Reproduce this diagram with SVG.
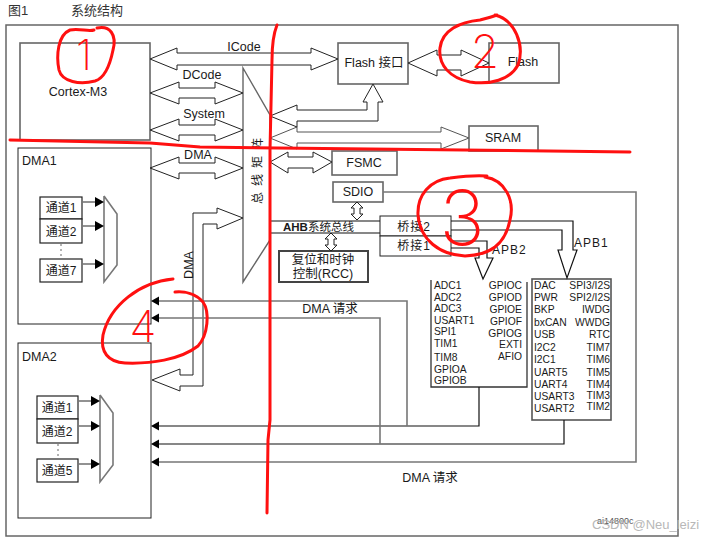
<svg xmlns="http://www.w3.org/2000/svg" width="720" height="540" viewBox="0 0 720 540">
<style>
text{font-family:"Liberation Sans","Noto Sans CJK SC",sans-serif;fill:#1a1a1a;font-size:12px}
.box{fill:#fff;stroke:#666;stroke-width:1.6}
.chan{fill:#fff;stroke:#222;stroke-width:1.2}
.big{fill:#fff;stroke:#222;stroke-width:1}
.ln{fill:none;stroke:#111;stroke-width:1.2}
.lg{fill:none;stroke:#777;stroke-width:1.6}
.tri{fill:#000}
.per text{font-size:10.3px}
.red{fill:none;stroke:#ff1010;stroke-width:3;stroke-linecap:round;stroke-linejoin:round}
.rt{fill:#ff1010;font-family:Inter,Lato,"DejaVu Sans",sans-serif;font-weight:200;text-anchor:middle}
.mid{text-anchor:middle}
.end{text-anchor:end}
</style>
<rect width="720" height="540" fill="#fff"/>
<text x="8" y="15" style="font-size:13px;fill:#333">图1</text>
<text x="71" y="15" style="font-size:13px;fill:#333">系统结构</text>
<rect x="6" y="25" width="672" height="511" fill="none" stroke="#666" stroke-width="1.5"/>

<g id="cortex"><rect class="box" x="20" y="43" width="130" height="97"/><text class="mid" x="78" y="96" style="font-size:12.5px">Cortex-M3</text></g>
<g id="flashif"><rect class="box" x="338" y="43" width="70" height="41"/><text class="mid" x="374" y="67" style="font-size:12.5px">Flash 接口</text></g>
<g id="flash"><rect class="box" x="489" y="43" width="70" height="40"/><text class="mid" x="523" y="66" style="font-size:12.5px">Flash</text></g>
<g id="busmatrix"><polygon points="243,68 270,115 270,240 243,282" fill="#fff" stroke="#666" stroke-width="1.4"/><text class="mid" transform="translate(262,168) rotate(-90)" style="letter-spacing:6px">总线矩阵</text></g>
<g id="sram"><rect class="box" x="469" y="126" width="69" height="25"/><text class="mid" x="503" y="142" style="font-size:12.5px">SRAM</text></g>
<g id="fsmc"><rect class="box" x="332" y="151" width="65" height="24"/><text class="mid" x="364" y="167" style="font-size:12.5px">FSMC</text></g>
<g id="sdio"><rect class="box" x="333" y="182" width="50" height="20"/><text class="mid" x="358" y="196" style="font-size:12.5px">SDIO</text></g>
<g id="bridge2"><rect class="big" x="380" y="216" width="71" height="20"/><text class="mid" x="414" y="231" style="letter-spacing:1px">桥接2</text></g>
<g id="bridge1"><rect class="big" x="380" y="236" width="71" height="20"/><text class="mid" x="414" y="250" style="letter-spacing:1px">桥接1</text></g>
<g id="rcc"><rect x="279" y="251" width="89" height="31" fill="#fff" stroke="#444" stroke-width="2"/><text class="mid" x="323" y="264" style="font-size:12.5px">复位和时钟</text><text class="mid" x="323" y="278" style="font-size:12.5px">控制(RCC)</text></g>

<g id="dma1"><rect class="big" x="18" y="148" width="133" height="176" stroke="#444"/><text x="22" y="165" style="font-size:12.5px">DMA1</text>
<rect class="chan" x="40" y="197" width="42" height="22"/><text class="mid" x="61" y="212">通道1</text>
<rect class="chan" x="40" y="219" width="42" height="24"/><text class="mid" x="61" y="236">通道2</text>
<rect class="chan" x="40" y="259" width="42" height="23"/><text class="mid" x="61" y="275">通道7</text>
<line x1="61" y1="244" x2="61" y2="258" stroke="#666" stroke-dasharray="2,3"/>
<polyline class="lg" points="104,196 117,214 117,265 104,282 104,196"/>
<g class="lg"><line x1="82" y1="202" x2="96" y2="202"/><line x1="82" y1="226" x2="96" y2="226"/><line x1="82" y1="264" x2="96" y2="264"/></g>
<polygon class="tri" points="104,202 95,197 95,207"/><polygon class="tri" points="104,226 95,221 95,231"/><polygon class="tri" points="104,264 95,259 95,269"/>
</g>

<g id="dma2"><rect class="big" x="18" y="343" width="133" height="175" stroke="#444"/><text x="22" y="361" style="font-size:12.5px">DMA2</text>
<rect class="chan" x="37" y="396" width="41" height="23"/><text class="mid" x="57" y="412">通道1</text>
<rect class="chan" x="37" y="419" width="41" height="24"/><text class="mid" x="57" y="436">通道2</text>
<rect class="chan" x="37" y="459" width="41" height="23"/><text class="mid" x="57" y="475">通道5</text>
<line x1="58" y1="444" x2="58" y2="458" stroke="#666" stroke-dasharray="2,3"/>
<polyline class="lg" points="100,395 113,413 113,465 100,482 100,395"/>
<g class="lg"><line x1="78" y1="401" x2="92" y2="401"/><line x1="78" y1="426" x2="92" y2="426"/><line x1="78" y1="464" x2="92" y2="464"/></g>
<polygon class="tri" points="100,401 91,396 91,406"/><polygon class="tri" points="100,426 91,421 91,431"/><polygon class="tri" points="100,464 91,459 91,469"/>
</g>

<g id="apb2box"><polyline points="431,280 431,387 527,387 527,282" fill="#fff" stroke="#333" stroke-width="1.3"/>
<g class="per"><text x="434" y="289">ADC1</text><text x="434" y="301">ADC2</text><text x="434" y="312">ADC3</text><text x="434" y="324">USART1</text><text x="434" y="335">SPI1</text><text x="434" y="347">TIM1</text><text x="434" y="361">TIM8</text><text x="434" y="373">GPIOA</text><text x="434" y="384">GPIOB</text>
<text class="end" x="522" y="289">GPIOC</text><text class="end" x="522" y="301">GPIOD</text><text class="end" x="522" y="313">GPIOE</text><text class="end" x="522" y="325">GPIOF</text><text class="end" x="522" y="337">GPIOG</text><text class="end" x="522" y="348">EXTI</text><text class="end" x="522" y="360">AFIO</text></g></g>

<g id="apb1box"><rect x="532" y="279" width="79" height="141" fill="#fff" stroke="#555" stroke-width="1.6"/>
<g class="per"><text x="534" y="289">DAC</text><text x="534" y="301">PWR</text><text x="534" y="313">BKP</text><text x="534" y="326">bxCAN</text><text x="534" y="338">USB</text><text x="534" y="351">I2C2</text><text x="534" y="363">I2C1</text><text x="534" y="376">UART5</text><text x="534" y="388">UART4</text><text x="534" y="400">USART3</text><text x="534" y="412">USART2</text>
<text class="end" x="610" y="289">SPI3/I2S</text><text class="end" x="610" y="301">SPI2/I2S</text><text class="end" x="610" y="313">IWDG</text><text class="end" x="610" y="326">WWDG</text><text class="end" x="610" y="338">RTC</text><text class="end" x="610" y="351">TIM7</text><text class="end" x="610" y="363">TIM6</text><text class="end" x="610" y="376">TIM5</text><text class="end" x="610" y="388">TIM4</text><text class="end" x="610" y="399">TIM3</text><text class="end" x="610" y="410">TIM2</text></g></g>

<g id="connectors">
<g fill="#fff" stroke="#222" stroke-width="1">
<polygon points="150,59 177,48 177,53 311,53 311,48 338,59 311,70 311,65 177,65 177,70"/>
<polygon points="150,93 179,82 179,88 215,88 215,82 243,93 215,104 215,98 179,98 179,104"/>
<polygon points="150,130 179,119 179,125 215,125 215,119 243,130 215,141 215,135 179,135 179,141"/>
<polygon points="150,168 179,157 179,163 215,163 215,157 243,168 215,179 215,173 179,173 179,179"/>
<polygon points="408,63 437,50 437,55 461,55 461,50 489,63 461,76 461,70 437,70 437,76"/>
<polygon points="270,162 288,152 288,157 313,157 313,152 332,162 313,173 313,168 288,168 288,173"/>
<polygon points="270,138 297,127 297,132 441,132 441,127 469,138 441,149 441,143 297,143 297,149" stroke="#555"/>
<polygon points="270,116 297,105 297,110 367,110 367,102 363,102 373,84 383,102 378,102 378,121 297,121 297,127"/>
<polygon points="152,380 180,369 180,375 193,375 193,213 217,213 217,208 243,218 217,229 217,224 203,224 203,386 180,386 180,391"/>
<polygon points="357,202 363,208 360,208 360,214 363,214 357,220 351,214 354,214 354,208 351,208"/>
<polygon points="331,233 337,239 334,239 334,245 337,245 331,251 325,245 328,245 328,239 325,239"/>
</g>
<text class="mid" x="244" y="51" style="font-size:12.5px">ICode</text>
<text class="mid" x="202" y="79" style="font-size:12.5px">DCode</text>
<text class="mid" x="204" y="118" style="font-size:12.5px">System</text>
<text class="mid" x="198" y="159" style="font-size:12.5px">DMA</text>
<text class="mid" transform="translate(193,265) rotate(-90)" style="font-size:12.5px">DMA</text>
<line class="ln" x1="270" y1="221" x2="380" y2="221"/>
<line class="ln" x1="270" y1="233" x2="380" y2="233"/>
<text x="283" y="231" style="font-size:11.5px"><tspan font-weight="bold">AHB</tspan>系统总线</text>
<polyline class="ln" points="451,221 573,221 573,250 577,250 567,278 558,250 562,250 562,230 451,230"/>
<polyline class="ln" points="451,241 487,241 487,258 493,258 483,279 475,258 479,258 479,248 451,248"/>
<text x="574" y="247" style="letter-spacing:1px">APB1</text>
<text x="492" y="254" style="letter-spacing:1px">APB2</text>
<polyline class="lg" points="383,192 636,192 636,462 159,462"/>
<polyline class="ln" points="479,387 479,426 159,426"/>
<polyline class="ln" points="564,420 564,444 159,444"/>
<polyline class="lg" points="159,301 407,301 407,426"/>
<polyline class="lg" points="159,318 380,318 380,444"/>
<polygon class="tri" points="151,301 159,296.5 159,305.5"/>
<polygon class="tri" points="151,318 159,313.5 159,322.5"/>
<polygon class="tri" points="151,426 159,421.5 159,430.5"/>
<polygon class="tri" points="151,444 159,439.5 159,448.5"/>
<polygon class="tri" points="151,462 159,457.5 159,466.5"/>
<text class="mid" x="330" y="313" style="font-size:12.5px">DMA 请求</text>
<text class="mid" x="430" y="482" style="font-size:12.5px">DMA 请求</text>
</g>

<text x="597" y="524" style="font-size:9px;fill:#555">ai14800c</text>
<text x="592" y="529" style="font-size:13px;fill:#b8b8b8">CSDN @Neu_leizi</text>

<g id="annotations">
<path class="red" d="M10,140 L150,143 L200,147 L630,152"/>
<path class="red" d="M277,25 C273,35 272,45 272,60 L270,150 L270,420 L268,440 L267,513"/>
<path class="red" d="M97,28 C110,25 117,35 113,50 C110,65 105,78 95,81 C80,85 62,82 59,70 C56,55 58,35 70,30 C80,28 88,32 94,30"/>
<text class="rt" x="84" y="70" style="font-size:42px">1</text>
<path class="red" d="M495,15 C515,20 525,45 518,65 C510,80 490,85 470,82 C450,78 438,65 440,48 C442,30 460,22 480,20 C488,18 492,17 497,15"/>
<text class="rt" x="485" y="68" style="font-size:46px">2</text>
<path class="red" d="M485,177 C505,180 515,200 510,220 C505,245 490,255 465,256 C440,255 420,240 418,215 C417,195 430,180 450,178 C465,176 475,175 487,176"/>
<text class="rt" x="462" y="245" style="font-size:76px">3</text>
<path class="red" d="M173,279 C140,282 110,305 103,335 C100,352 108,362 125,363 C150,364 180,360 198,346 C208,335 210,312 203,302 C196,294 185,291 175,292"/>
<text class="rt" x="143" y="342" style="font-size:44px">4</text>
</g>
</svg>
